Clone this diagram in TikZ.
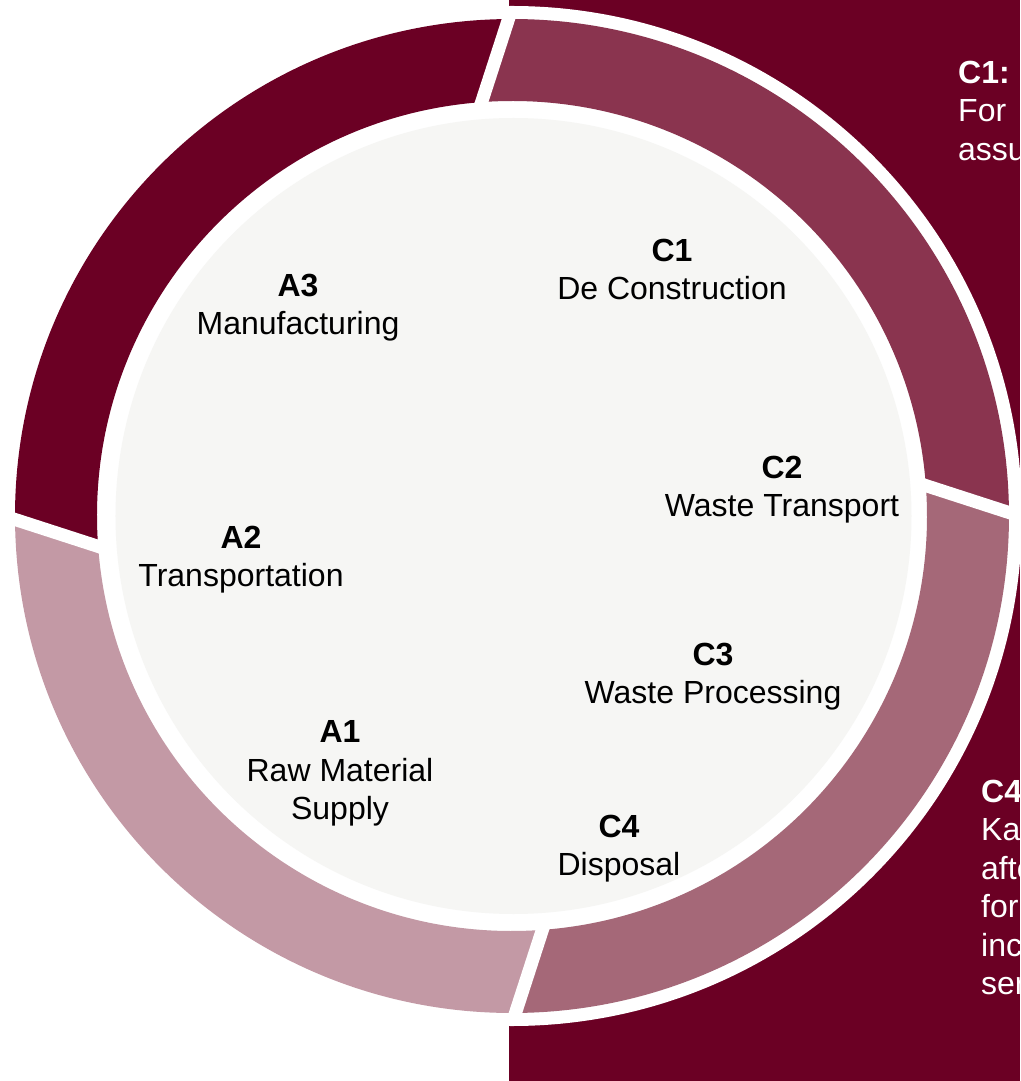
\documentclass[tikz,border=0pt]{standalone}
\usepackage{fontspec}
\setmainfont{Liberation Sans}
\usetikzlibrary{calc}
\definecolor{lcamaroon}{HTML}{6B0024}
\definecolor{lcaendoflife}{HTML}{8A344F}
\definecolor{lcawaste}{HTML}{A56878}
\definecolor{lcaproduct}{HTML}{C399A5}
\definecolor{lcacore}{HTML}{F6F6F4}
\begin{document}
\begin{tikzpicture}[x=1pt, y=1pt,
	stage/.style={anchor=north, align=center, inner sep=0pt, font=\fontsize{32}{38.5}\selectfont},
	sidenote/.style={anchor=north west, align=left, inner sep=0pt, text=white, font=\fontsize{32}{38.5}\selectfont},
	gap/.style={white, line width=13pt}]
	  \useasboundingbox (-512,-565) rectangle (508,516);
	  \fill [lcamaroon] (-3,-565) rectangle (508,516);
	  \fill [white] (0,0) circle [radius=510];

	  \fill [lcaendoflife] (0.4:497) arc [start angle=0.4, end angle=90.4, radius=497] -- (94.2:415) arc [start angle=94.2, end angle=4.2, radius=415] -- cycle;
	  \fill [lcamaroon] (90.4:497) arc [start angle=90.4, end angle=180.4, radius=497] -- (184.2:415) arc [start angle=184.2, end angle=94.2, radius=415] -- cycle;
	  \fill [lcaproduct] (180.4:497) arc [start angle=180.4, end angle=270.4, radius=497] -- (274.2:415) arc [start angle=274.2, end angle=184.2, radius=415] -- cycle;
	  \fill [lcawaste] (270.4:497) arc [start angle=270.4, end angle=360.4, radius=497] -- (364.2:415) arc [start angle=364.2, end angle=274.2, radius=415] -- cycle;

	  \draw [gap] ($(4.2:415)!-0.15!(0.4:497)$) -- ($(4.2:415)!1.08!(0.4:497)$);
	  \draw [gap] ($(94.2:415)!-0.15!(90.4:497)$) -- ($(94.2:415)!1.08!(90.4:497)$);
	  \draw [gap] ($(184.2:415)!-0.15!(180.4:497)$) -- ($(184.2:415)!1.08!(180.4:497)$);
	  \draw [gap] ($(274.2:415)!-0.15!(270.4:497)$) -- ($(274.2:415)!1.08!(270.4:497)$);

	  \fill [lcacore] (1.5,0) circle [radius=398];

	  \node [stage] (a3) at (-214,242.5) {\textbf{A3}\\Manufacturing};
	  \node [stage] (a2) at (-271,-9.5) {\textbf{A2}\\Transportation};
	  \node [stage] (a1) at (-172,-204.5) {\textbf{A1}\\Raw Material\\Supply};
	  \node [stage] (c1) at (160,277.5) {\textbf{C1}\\De Construction};
	  \node [stage] (c2) at (270,60.5) {\textbf{C2}\\Waste Transport};
	  \node [stage] (c3) at (201,-126.5) {\textbf{C3}\\Waste Processing};
	  \node [stage] (c4) at (107,-298.5) {\textbf{C4}\\Disposal};

	  \node [sidenote] (c1note) at (446,455.5) {\textbf{C1: D}\\For\\assu};
	  \node [sidenote] (c4note) at (469,-263.5) {\textbf{C4:}\\Ka\\afte\\for\\inc\\ser};
\end{tikzpicture}
\end{document}
